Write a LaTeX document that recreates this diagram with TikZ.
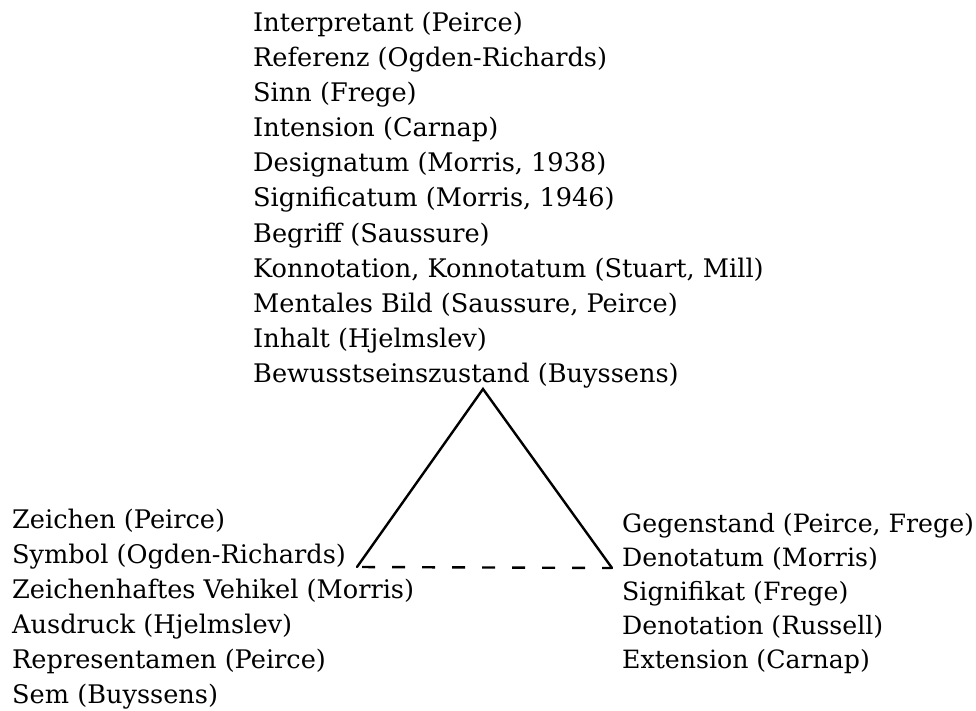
\documentclass[tikz,border=0pt]{standalone}
\usepackage{fontspec}
\setmainfont{DejaVu Serif}
\begin{document}
\begin{tikzpicture}[x=1pt,y=-1pt,
  term/.style={anchor=base west,inner sep=0pt,font=\fontsize{25.6}{30}\selectfont},
  rterm/.style={term,font=\fontsize{25.2}{30}\selectfont},
  edge/.style={line width=2.4pt,line cap=round,line join=miter},
  baseedge/.style={line width=2.4pt,dash pattern=on 13pt off 17pt,dash phase=25pt}]
  \useasboundingbox (0,0) rectangle (976,711);
  % meaning (top corner)
  \foreach \t [count=\i from 0] in {Interpretant (Peirce),Referenz (Ogden-Richards),Sinn (Frege),Intension (Carnap),Designatum (Morris{,} 1938),Significatum (Morris{,} 1946),Begriff (Saussure),{Konnotation, Konnotatum (Stuart, Mill)},{Mentales Bild (Saussure, Peirce)},Inhalt (Hjelmslev),Bewusstseinszustand (Buyssens)}
    \node[term] (top\i) at (253,{31.5+35.1*\i}) {\t};
  % sign vehicle (left corner)
  \foreach \t [count=\i from 0] in {Zeichen (Peirce),Symbol (Ogden-Richards),Zeichenhaftes Vehikel (Morris),Ausdruck (Hjelmslev),Representamen (Peirce),Sem (Buyssens)}
    \node[term] (lft\i) at (12,{528+35*\i}) {\t};
  % referent (right corner)
  \foreach \t [count=\i from 0] in {{Gegenstand (Peirce, Frege)},Denotatum (Morris),Signifikat (Frege),Denotation (Russell),Extension (Carnap)}
    \node[rterm] (rgt\i) at (622,{532+34*\i}) {\t};
  % triangle
  \coordinate (apex) at (483,389);
  \coordinate (cl) at (357,567);
  \coordinate (cr) at (612,568);
  \draw[edge] (cl) -- (apex) -- (cr);
  \draw[baseedge] (cl) -- (cr);
\end{tikzpicture}
\end{document}
